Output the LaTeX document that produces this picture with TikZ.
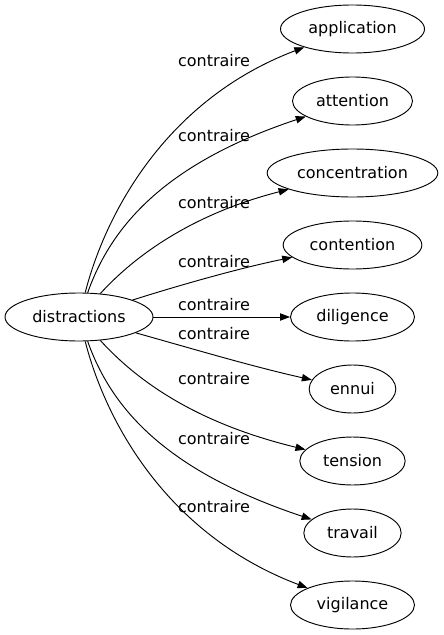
\documentclass[tikz,border=0pt]{standalone}
\usepackage{fontspec}
\setmainfont{DejaVu Sans}
\usetikzlibrary{arrows.meta,shapes.geometric}
\tikzset{word/.style={draw, ellipse, line width=0.7pt, inner sep=0pt, minimum height=36pt, font=\fontsize{12}{14}\selectfont},
	rel/.style={draw=none, inner sep=0pt, font=\fontsize{12}{14}\selectfont},
	link/.style={-{Triangle[length=7.5pt,width=5.5pt]}, line width=0.7pt}}

\begin{document}
\begin{tikzpicture}[x=0.75pt, y=-0.75pt]
		\useasboundingbox (0,0) rectangle (443,635);
		
		\node[word, minimum width=111pt] (dis) at (79,317) {distractions};
		
		\node[word, minimum width=108pt] (app) at (352.5,29) {application};
		\node[word, minimum width=90pt] (att) at (352.5,101) {attention};
		\node[word, minimum width=128pt] (con) at (352.5,173) {concentration};
		\node[word, minimum width=104pt] (ctn) at (352.5,245) {contention};
		\node[word, minimum width=93pt] (dil) at (352.5,317) {diligence};
		\node[word, minimum width=65pt] (enn) at (352.5,389) {ennui};
		\node[word, minimum width=79pt] (ten) at (352.5,461) {tension};
		\node[word, minimum width=73pt] (tra) at (352.5,533) {travail};
		\node[word, minimum width=93pt] (vig) at (352.5,605) {vigilance};
		
		\draw[link] (dis) .. controls (105,215) and (165,100) .. (app);
		\draw[link] (dis) .. controls (110,230) and (160,165) .. (att);
		\draw[link] (dis) .. controls (140,250) and (200,212) .. (con);
		\draw[link] (dis) .. controls (180,285) and (240,268) .. (ctn);
		\draw[link] (dis) -- (dil);
		\draw[link] (dis) .. controls (190,348) and (250,366) .. (enn);
		\draw[link] (dis) .. controls (140,384) and (200,424) .. (ten);
		\draw[link] (dis) .. controls (110,404) and (160,469) .. (tra);
		\draw[link] (dis) .. controls (105,419) and (165,534) .. (vig);
		
		\node[rel] (l1) at (214,61) {contraire};
		\node[rel] (l2) at (214,136) {contraire};
		\node[rel] (l3) at (214,203) {contraire};
		\node[rel] (l4) at (214,262) {contraire};
		\node[rel] (l5) at (214,305) {contraire};
		\node[rel] (l6) at (214,334) {contraire};
		\node[rel] (l7) at (214,379) {contraire};
		\node[rel] (l8) at (214,439) {contraire};
		\node[rel] (l9) at (214,507) {contraire};
	\end{tikzpicture}
\end{document}
